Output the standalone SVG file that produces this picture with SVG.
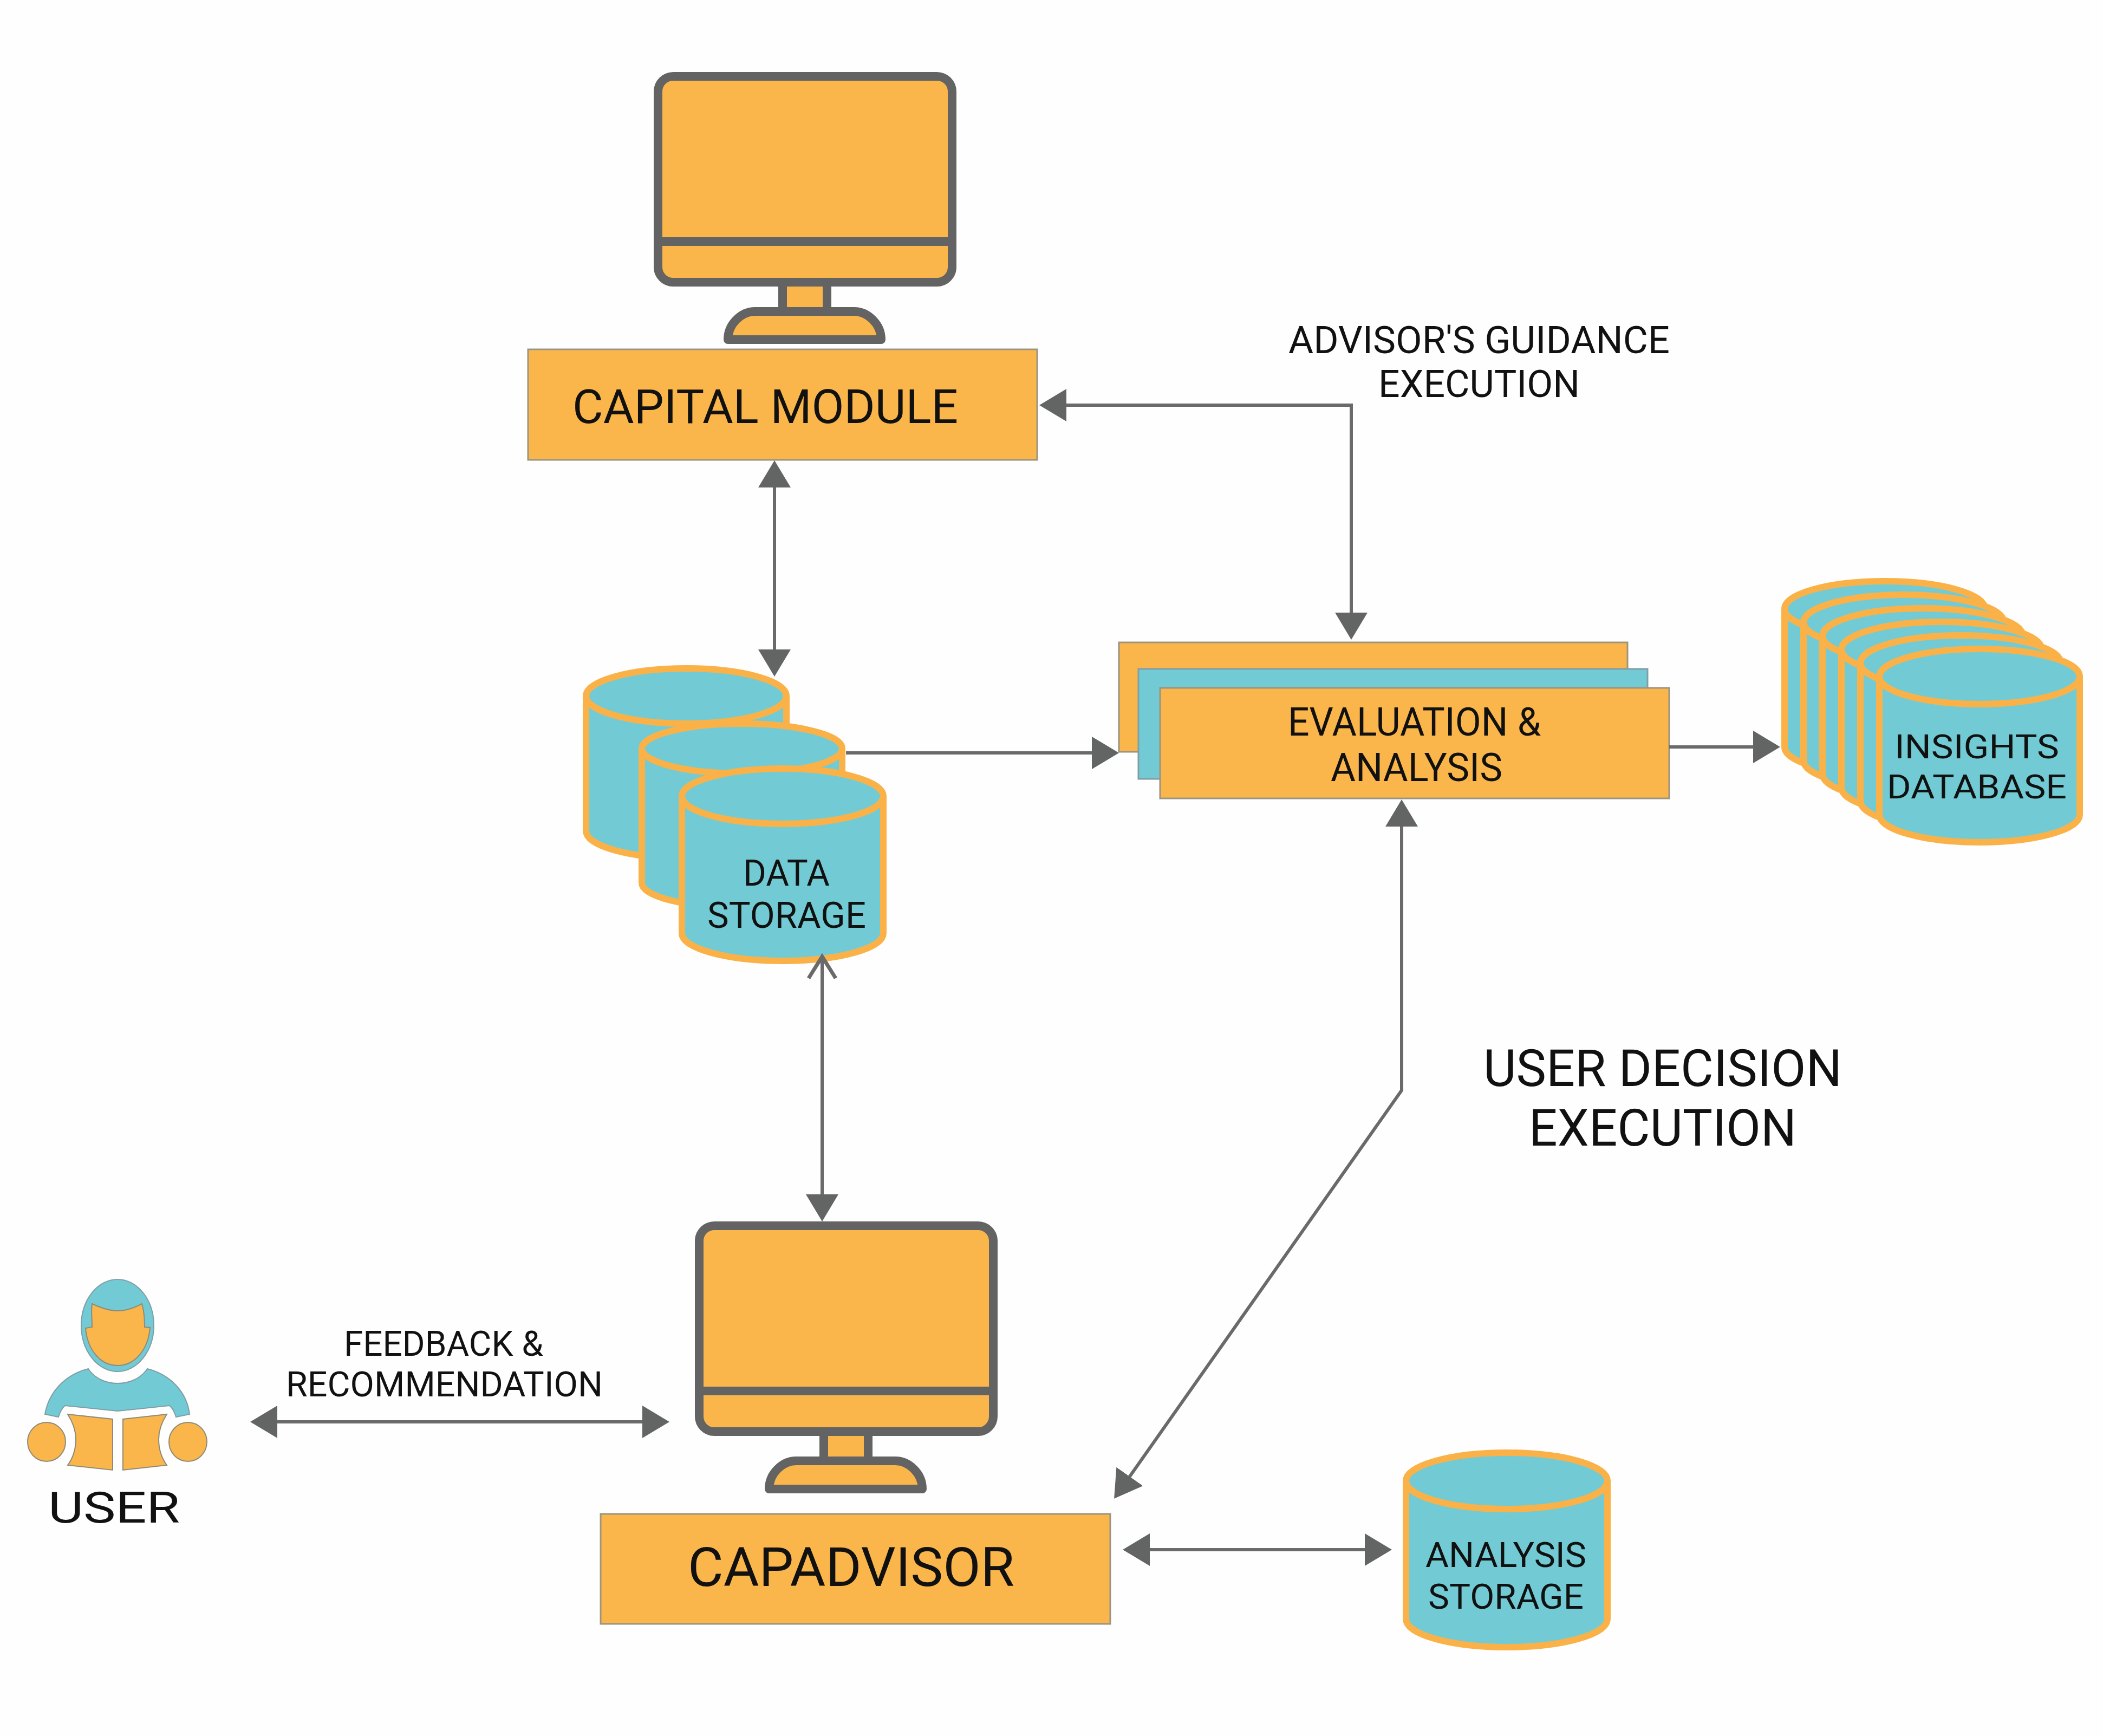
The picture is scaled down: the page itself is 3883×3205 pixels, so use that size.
<svg xmlns="http://www.w3.org/2000/svg" xmlns:xlink="http://www.w3.org/1999/xlink" width="3883" height="3205" viewBox="0 0 3883 3205">
<style>
text{font-family:Roboto,"Liberation Sans",sans-serif;fill:#111;text-anchor:start}
.box{fill:#fbb64b;stroke:#9c9480;stroke-width:3}
.tealbox{fill:#72cbd4;stroke:#7f9ea6;stroke-width:3}
.cyl{fill:#72cbd4;stroke:#fab248;stroke-width:12;stroke-linejoin:round}
.mon{fill:#fbb64b;stroke:#636363;stroke-width:16;stroke-linejoin:round}
.conn{fill:none;stroke:#6a6a6a;stroke-width:6;stroke-linejoin:miter}
.usr-o{fill:#fbb64b;stroke:#8f8a78;stroke-width:2}
.usr-t{fill:#72cbd4;stroke:#7f9ea6;stroke-width:2}
</style>
<defs>
<marker id="head" markerUnits="userSpaceOnUse" markerWidth="60" markerHeight="70" viewBox="0 0 60 70" refX="5" refY="35" orient="auto-start-reverse"><path d="M0 5L50 35L0 65Z" fill="#636565"/></marker>
<marker id="openhead" markerUnits="userSpaceOnUse" markerWidth="60" markerHeight="70" viewBox="0 0 60 70" refX="47" refY="35" orient="auto-start-reverse"><path d="M7 10L47 35L7 60" fill="none" stroke="#6a6a6a" stroke-width="7"/></marker>
<g id="monitor">
<rect class="mon" x="238" y="388" width="82" height="54"/>
<path class="mon" d="M137 494L420 494C420 465 395 442 370 442L187 442C162 442 137 465 137 494Z"/>
<rect class="mon" x="8" y="8" width="543" height="380" rx="28"/>
<path d="M8 313H551" fill="none" stroke="#636363" stroke-width="16"/>
</g>
<g id="insight-cyl">
<path class="cyl" d="M-185 0V255A185 51 0 0 0 185 255V0"/>
<ellipse class="cyl" cx="0" cy="0" rx="185" ry="51"/>
</g>
</defs>
<rect width="3883" height="3205" fill="#fefefe"/>

<g id="capital-monitor" transform="translate(1207 133)"><use xlink:href="#monitor" href="#monitor"/></g>
<g id="capital-module">
<rect class="box" x="975" y="645" width="940" height="204"/>
<text x="1057" y="781" font-size="88" textLength="712" lengthAdjust="spacingAndGlyphs">CAPITAL MODULE</text>
</g>

<g id="data-storage">
<path class="cyl" d="M1082 1285V1534A185 51 0 0 0 1452 1534V1285"/>
<ellipse class="cyl" cx="1267" cy="1285" rx="185" ry="51"/>
<path class="cyl" d="M1185 1382V1630A185 46 0 0 0 1555 1630V1382"/>
<ellipse class="cyl" cx="1370" cy="1382" rx="185" ry="46"/>
<path class="cyl" d="M1259 1470V1723A186 51 0 0 0 1631 1723V1470"/>
<ellipse class="cyl" cx="1445" cy="1470" rx="186" ry="51"/>
<text x="1372" y="1635" font-size="66" textLength="160" lengthAdjust="spacingAndGlyphs">DATA</text>
<text x="1306" y="1713" font-size="66" textLength="293" lengthAdjust="spacingAndGlyphs">STORAGE</text>
</g>

<g id="evaluation-analysis">
<rect class="box" x="2066" y="1186" width="939" height="202"/>
<rect class="tealbox" x="2102" y="1235" width="940" height="203"/>
<rect class="box" x="2142" y="1270" width="940" height="204"/>
<text x="2378" y="1358" font-size="72" textLength="467" lengthAdjust="spacingAndGlyphs">EVALUATION &amp;</text>
<text x="2457" y="1442" font-size="72" textLength="317" lengthAdjust="spacingAndGlyphs">ANALYSIS</text>
</g>

<g id="insights-database">
<use xlink:href="#insight-cyl" href="#insight-cyl" x="3480" y="1124"/>
<use xlink:href="#insight-cyl" href="#insight-cyl" x="3515" y="1149"/>
<use xlink:href="#insight-cyl" href="#insight-cyl" x="3550" y="1174"/>
<use xlink:href="#insight-cyl" href="#insight-cyl" x="3585" y="1199"/>
<use xlink:href="#insight-cyl" href="#insight-cyl" x="3620" y="1224"/>
<use xlink:href="#insight-cyl" href="#insight-cyl" x="3655" y="1249"/>
<text x="3498" y="1400" font-size="62" textLength="304" lengthAdjust="spacingAndGlyphs">INSIGHTS</text>
<text x="3484" y="1474" font-size="62" textLength="332" lengthAdjust="spacingAndGlyphs">DATABASE</text>
</g>

<g id="capadvisor-monitor" transform="translate(1283 2255)"><use xlink:href="#monitor" href="#monitor"/></g>
<g id="capadvisor">
<rect class="box" x="1109" y="2795" width="941" height="203"/>
<text x="1270" y="2928" font-size="100" textLength="603" lengthAdjust="spacingAndGlyphs">CAPADVISOR</text>
</g>

<g id="analysis-storage">
<path class="cyl" d="M2596 2734V2989A186 52 0 0 0 2968 2989V2734"/>
<ellipse class="cyl" cx="2782" cy="2734" rx="186" ry="52"/>
<text x="2632" y="2893" font-size="64" textLength="297" lengthAdjust="spacingAndGlyphs">ANALYSIS</text>
<text x="2637" y="2970" font-size="64" textLength="287" lengthAdjust="spacingAndGlyphs">STORAGE</text>
</g>

<g id="user">
<ellipse class="usr-t" cx="217" cy="2447" rx="67" ry="85"/>
<path class="usr-o" d="M170 2407C185 2414 200 2420 217 2420C234 2420 249 2414 262 2407C266 2420 267 2435 267 2450L277 2451C274 2490 250 2521 217 2521C184 2521 161 2490 158 2452L170 2450C170 2435 168 2420 170 2407Z"/>
<path class="usr-t" d="M163 2527C175 2545 195 2554 217 2554C239 2554 260 2545 272 2527C315 2538 345 2570 350 2611L325 2616C322 2606 319 2600 313 2595L217 2605L120 2595C114 2600 111 2606 108 2616L83 2611C90 2570 120 2538 163 2527Z"/>
<ellipse class="usr-o" cx="86" cy="2662" rx="35" ry="36"/>
<ellipse class="usr-o" cx="347" cy="2662" rx="35" ry="36"/>
<path class="usr-o" d="M125 2611L208 2620V2714L125 2705C136 2690 140 2675 140 2657C140 2640 134 2625 125 2611Z"/>
<path class="usr-o" d="M308 2611L227 2620V2714L308 2705C297 2690 293 2675 293 2657C293 2640 299 2625 308 2611Z"/>
<text x="89" y="2811" font-size="80" textLength="243" lengthAdjust="spacingAndGlyphs">USER</text>
</g>

<g id="connectors">
<path class="conn" marker-start="url(#head)" marker-end="url(#head)" d="M1430 895V1204"/>
<path class="conn" marker-start="url(#head)" marker-end="url(#head)" d="M1964 748H2495V1136"/>
<path class="conn" marker-end="url(#head)" d="M1562 1390H2021"/>
<path class="conn" marker-end="url(#head)" d="M3082 1379H3242"/>
<path class="conn" marker-start="url(#openhead)" marker-end="url(#head)" d="M1518 1766V2210"/>
<path class="conn" marker-start="url(#head)" marker-end="url(#head)" d="M507 2625H1191"/>
<path class="conn" marker-start="url(#head)" marker-end="url(#head)" d="M2588 1521V2013L2083 2730"/>
<path class="conn" marker-start="url(#head)" marker-end="url(#head)" d="M2118 2861H2525"/>
</g>

<g id="labels">
<text x="2379" y="652" font-size="70" textLength="704" lengthAdjust="spacingAndGlyphs">ADVISOR'S GUIDANCE</text>
<text x="2545" y="733" font-size="70" textLength="372" lengthAdjust="spacingAndGlyphs">EXECUTION</text>
<text x="2739" y="2005" font-size="94" textLength="662" lengthAdjust="spacingAndGlyphs">USER DECISION</text>
<text x="2823" y="2115" font-size="94" textLength="494" lengthAdjust="spacingAndGlyphs">EXECUTION</text>
<text x="635" y="2503" font-size="64" textLength="368" lengthAdjust="spacingAndGlyphs">FEEDBACK &amp;</text>
<text x="528" y="2578" font-size="64" textLength="585" lengthAdjust="spacingAndGlyphs">RECOMMENDATION</text>
</g>
</svg>
